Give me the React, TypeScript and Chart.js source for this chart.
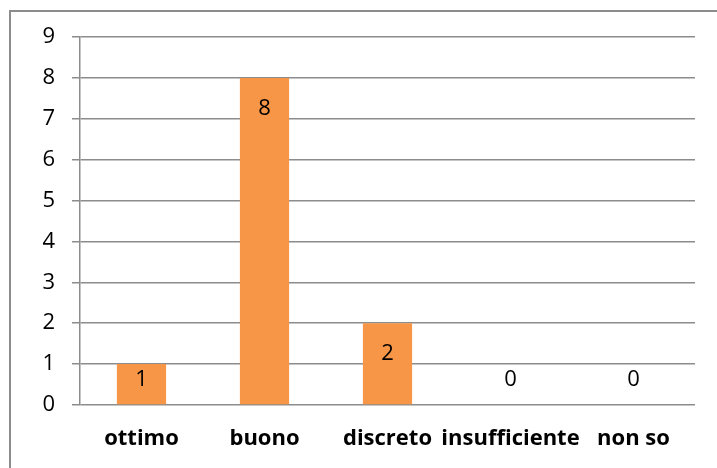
import React, { useEffect, useRef } from "react";
import { Chart, registerables } from "chart.js";

Chart.register(...registerables);

const categories = ["ottimo", "buono", "discreto", "insufficiente", "non so"];
const values = [1, 8, 2, 0, 0];
const yMin = 0;
const yMax = 9;
const yStep = 1;

const GRID = "#8c8c8c";
const BAR = "#F79646";
const FONT = "'Open Sans', 'Noto Sans', sans-serif";

const frame = {
  id: "frame",
  beforeDraw(chart: any) {
    const ctx = chart.ctx;
    ctx.save();
    ctx.fillStyle = "#ffffff";
    ctx.fillRect(0, 0, chart.width, chart.height);
    ctx.strokeStyle = GRID;
    ctx.lineWidth = 2;
    ctx.beginPath();
    ctx.moveTo(10, chart.height);
    ctx.lineTo(10, 11);
    ctx.lineTo(chart.width, 11);
    ctx.stroke();
    ctx.restore();
  },
};

const barLabels = {
  id: "barLabels",
  afterDatasetsDraw(chart: any) {
    const ctx = chart.ctx;
    const meta = chart.getDatasetMeta(0);
    const base = chart.scales.y.getPixelForValue(0);
    ctx.save();
    ctx.fillStyle = "#000";
    ctx.font = `22px ${FONT}`;
    ctx.textAlign = "center";
    ctx.textBaseline = "middle";
    meta.data.forEach((bar: any, i: number) => {
      const y = Math.min(bar.y + 31, base - 25);
      ctx.fillText(String(chart.data.datasets[0].data[i]), bar.x, y);
    });
    ctx.restore();
  },
};

export default function App() {
  const ref = useRef<HTMLCanvasElement | null>(null);
  useEffect(() => {
    if (!ref.current) return;
    const chart = new Chart(ref.current, {
      type: "bar",
      data: {
        labels: categories,
        datasets: [
          {
            data: values,
            backgroundColor: BAR,
            borderWidth: 0,
            barPercentage: 0.4,
            categoryPercentage: 1,
          },
        ],
      },
      options: {
        animation: false,
        responsive: true,
        maintainAspectRatio: false,
        layout: { padding: { left: 0, top: 37, right: 22, bottom: 0 } },
        plugins: {
          legend: { display: false },
          tooltip: { enabled: false },
          title: { display: false },
        },
        scales: {
          x: {
            grid: { display: false, drawTicks: false },
            border: { display: false },
            ticks: {
              color: "#000",
              font: { family: FONT, size: 22, weight: "bold" },
              padding: 21,
              maxRotation: 0,
              minRotation: 0,
              autoSkip: false,
            },
            afterFit(scale: any) {
              scale.height = 63;
            },
          },
          y: {
            min: yMin,
            max: yMax,
            grid: { color: GRID, lineWidth: 1.5, tickLength: 8, drawTicks: true },
            border: { display: true, color: GRID, width: 1.5 },
            ticks: {
              stepSize: yStep,
              color: "#000",
              font: { family: FONT, size: 22 },
              padding: 17,
            },
            afterFit(scale: any) {
              scale.width = 80;
            },
          },
        },
      },
      plugins: [frame, barLabels],
    });
    return () => chart.destroy();
  }, []);
  return (
    <div style={{ position: "fixed", left: 0, top: 0, width: 717, height: 468 }}>
      <canvas ref={ref} />
    </div>
  );
}
